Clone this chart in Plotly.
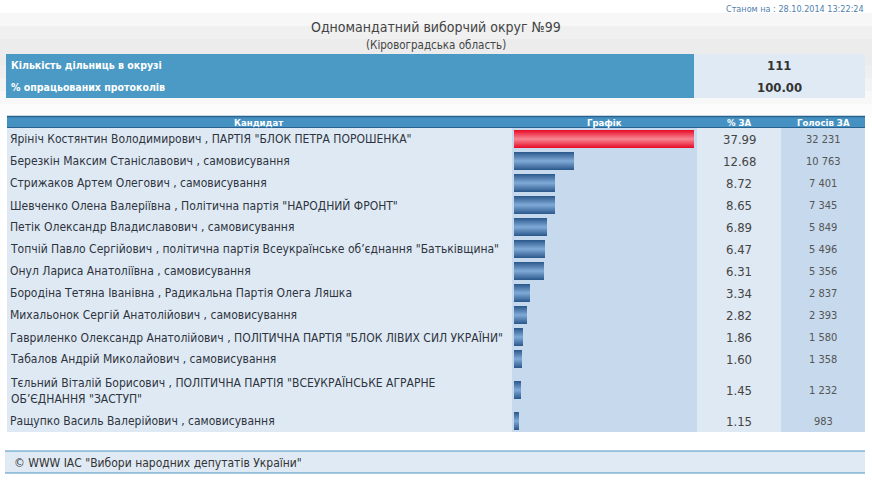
import plotly.graph_objects as go

# --- data ---
candidates = [
    'Ярініч Костянтин Володимирович , ПАРТІЯ "БЛОК ПЕТРА ПОРОШЕНКА"',
    'Березкін Максим Станіславович , самовисування',
    'Стрижаков Артем Олегович , самовисування',
    'Шевченко Олена Валеріївна , Політична партія "НАРОДНИЙ ФРОНТ"',
    'Петік Олександр Владиславович , самовисування',
    'Топчій Павло Сергійович , політична партія Всеукраїнське об’єднання "Батьківщина"',
    'Онул Лариса Анатоліївна , самовисування',
    'Бородіна Тетяна Іванівна , Радикальна Партія Олега Ляшка',
    'Михальонок Сергій Анатолійович , самовисування',
    'Гавриленко Олександр Анатолійович , ПОЛІТИЧНА ПАРТІЯ "БЛОК ЛІВИХ СИЛ УКРАЇНИ"',
    'Табалов Андрій Миколайович , самовисування',
    'Тєльний Віталій Борисович , ПОЛІТИЧНА ПАРТІЯ "ВСЕУКРАЇНСЬКЕ АГРАРНЕ<br>ОБ’ЄДНАННЯ "ЗАСТУП"',
    'Ращупко Василь Валерійович , самовисування',
]
pct = [37.99, 12.68, 8.72, 8.65, 6.89, 6.47, 6.31, 3.34, 2.82, 1.86, 1.60, 1.45, 1.15]
votes = [32231, 10763, 7401, 7345, 5849, 5496, 5356, 2837, 2393, 1580, 1358, 1232, 983]

info_labels = ["Кількість дільниць в окрузі", "% опрацьованих протоколів"]
info_values = ["111", "100.00"]
col_titles = ["Кандидат", "Графік", "% ЗА", "Голосів ЗА"]

title = "Одномандатний виборчий округ №99"
subtitle = "(Кіровоградська область)"
stamp = "Станом на : 28.10.2014 13:22:24"
footer = '© WWW ІАС "Вибори народних депутатів України"'

W, H = 872, 498
TXT = "DejaVu Sans Condensed, Tahoma, sans-serif"
NARROW = "Liberation Sans Narrow, Arial Narrow, DejaVu Sans Condensed, sans-serif"

# row geometry (pixels); the wrapped row is twice as tall
row_h = [40 if "<br>" in c else 22 for c in candidates]
top = 128
centers = []
y = top
for h in row_h:
    centers.append(y + h / 2)
    y += h
bottom = y


def mix(c1, c2, t):
    a = [int(c1[i:i + 2], 16) for i in (1, 3, 5)]
    b = [int(c2[i:i + 2], 16) for i in (1, 3, 5)]
    return "#" + "".join(f"{round(p + (q - p) * t):02x}" for p, q in zip(a, b))


fig = go.Figure()

# bars drawn as stacked overlaid layers to fake the glossy vertical gradient
n_layers = 9
for k in range(n_layers):
    t = k / (n_layers - 1)
    w = 18 - 2 * k
    blue = mix("#2f5c8f", "#7ba6d4", t)
    red = mix("#e8102c", "#f7808e", t)
    fig.add_trace(go.Bar(
        x=pct, y=centers, orientation="h", width=w,
        marker=dict(color=[red if i == 0 else blue for i in range(len(pct))], line=dict(width=0)),
        xaxis="x2", yaxis="y", hoverinfo="skip", showlegend=False,
    ))

shapes = []
# soft gray page background band at the top
grays = ["#ffffff", "#f7f7f7", "#f0f0f0", "#ececec", "#ececec", "#efefef", "#f3f3f3", "#f8f8f8", "#fcfcfc"]
for i, c in enumerate(grays):
    shapes.append(dict(type="rect", x0=0, x1=W, y0=i * 13, y1=(i + 1) * 13, fillcolor=c, line_width=0, layer="below"))

# info box
shapes.append(dict(type="rect", x0=6, x1=694, y0=54, y1=98, fillcolor="#4a9ac5", line_width=0, layer="below"))
shapes.append(dict(type="rect", x0=694, x1=865, y0=54, y1=98, fillcolor="#e0eaf4", line_width=0, layer="below"))

# table body columns
cols = [(7, 512, "#dfe9f3"), (512, 697, "#c6d9ed"), (697, 781, "#dfe9f3"), (781, 865, "#c6d9ed")]
for x0, x1, c in cols:
    shapes.append(dict(type="rect", x0=x0, x1=x1, y0=top, y1=bottom, fillcolor=c, line_width=0, layer="below"))

# table header
shapes.append(dict(type="rect", x0=7, x1=865, y0=116, y1=top, fillcolor="#4592c2", line_width=0, layer="below"))
shapes.append(dict(type="line", x0=7, x1=865, y0=116.5, y1=116.5, line=dict(color="#2a628f", width=1.5), layer="below"))
shapes.append(dict(type="line", x0=7, x1=865, y0=top - 0.5, y1=top - 0.5, line=dict(color="#2a628f", width=1), layer="below"))

# footer
shapes.append(dict(type="rect", x0=5, x1=865, y0=451, y1=473, fillcolor="#e0eaf4", line_width=0, layer="below"))
shapes.append(dict(type="line", x0=5, x1=865, y0=451, y1=451, line=dict(color="#4a94c4", width=1.2), layer="below"))
shapes.append(dict(type="line", x0=5, x1=865, y0=473, y1=473, line=dict(color="#4a94c4", width=1.2), layer="below"))

ann = []


def txt(x, y, s, size, color, family=TXT, anchor="left"):
    ann.append(dict(x=x, y=y, xref="x", yref="y", text=s, showarrow=False, xanchor=anchor, yanchor="middle",
                    align=anchor, font=dict(family=family, size=size, color=color)))


txt(866, 9, stamp, 9, "#4f7fae", NARROW, "right")
txt(436, 27, title, 14, "#444444", NARROW, "center")
txt(436, 45, subtitle, 11.5, "#444444", NARROW, "center")

for lab, val, yy in zip(info_labels, info_values, [65, 87]):
    txt(9, yy, "<b>" + lab + "</b>", 10.5, "#ffffff", NARROW)
    txt(779, yy, "<b>" + val + "</b>", 13, "#333333", TXT, "center")

for t, xc in zip(col_titles, [258, 604, 739, 823]):
    txt(xc, 122, "<b>" + t + "</b>", 9.5, "#ffffff", NARROW, "center")

for c, p, v, yc in zip(candidates, pct, votes, centers):
    txt(8, yc, c, 12, "#2d3440")
    txt(739, yc, f"{p:.2f}", 13, "#444444", TXT, "center")
    txt(823, yc, f"{v:,}".replace(",", " "), 11, "#555555", TXT, "center")

txt(12, 463, footer, 12, "#333333")

fig.update_layout(
    width=W, height=H, autosize=False,
    margin=dict(l=0, r=0, t=0, b=0),
    paper_bgcolor="#ffffff", plot_bgcolor="rgba(0,0,0,0)",
    barmode="overlay", bargap=0,
    xaxis=dict(range=[0, W], visible=False, fixedrange=True),
    yaxis=dict(range=[H, 0], visible=False, fixedrange=True),
    xaxis2=dict(domain=[514 / W, 694 / W], range=[0, max(pct)], anchor="y", visible=False, fixedrange=True),
    shapes=shapes, annotations=ann,
)

fig.write_html("out.html", config={"displayModeBar": False},
               post_script="document.body.style.margin='0';document.body.style.overflow='hidden';")
